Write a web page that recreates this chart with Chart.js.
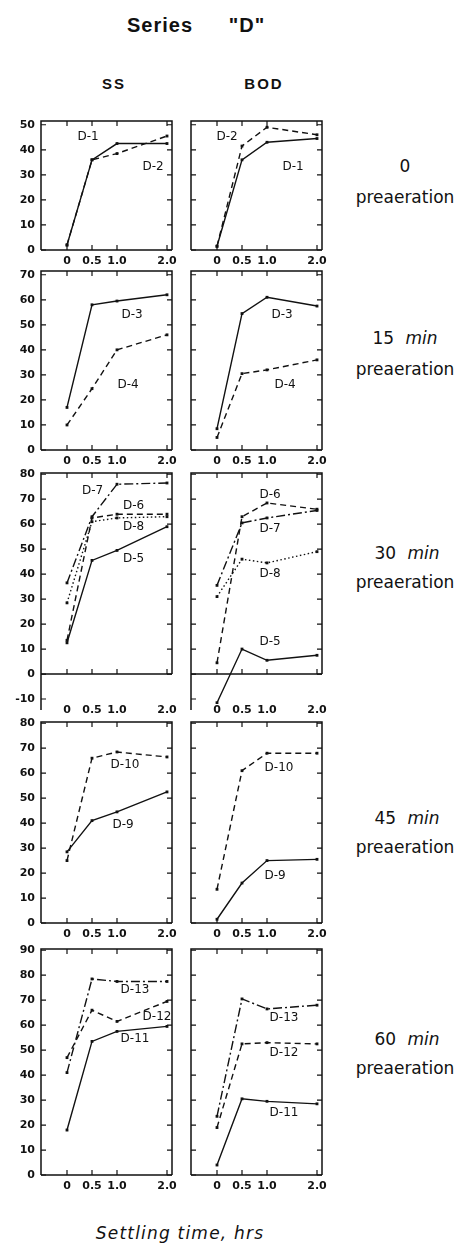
<!DOCTYPE html>
<html>
<head>
<meta charset="utf-8">
<script src="https://cdn.jsdelivr.net/npm/chart.js@4.4.0/dist/chart.umd.min.js"></script>
<style>
  body { margin: 0; background: #fff; }
  #page { position: relative; width: 468px; height: 1247px; overflow: hidden; font-family: 'DejaVu Sans'; color: #111; }
  #page canvas { position: absolute; }
  .txt { position: absolute; transform: translate(-50%, -50%); line-height: 1; white-space: nowrap; }
  .side { font-size: 17px; word-spacing: 6px; }
  .side i { font-style: italic; }
</style>
</head>
<body>
<div id="page">
  <div class="txt" style="left:160px; top:25px; font: bold 20px 'Liberation Sans'; letter-spacing:1px;">Series</div>
  <div class="txt" style="left:247px; top:25px; font: bold 20px 'Liberation Sans'; letter-spacing:1px;">"D"</div>
  <div class="txt" style="left:114px; top:83px; font: bold 15px 'Liberation Sans'; letter-spacing:2px;">SS</div>
  <div class="txt" style="left:264px; top:83px; font: bold 15px 'Liberation Sans'; letter-spacing:2px;">BOD</div>

  <div class="txt side" style="left:405px; top:166px;">0</div>
  <div class="txt side" style="left:405px; top:197px;">preaeration</div>
  <div class="txt side" style="left:405px; top:338px;">15 <i>min</i></div>
  <div class="txt side" style="left:405px; top:369px;">preaeration</div>
  <div class="txt side" style="left:407px; top:553px;">30 <i>min</i></div>
  <div class="txt side" style="left:405px; top:582px;">preaeration</div>
  <div class="txt side" style="left:407px; top:818px;">45 <i>min</i></div>
  <div class="txt side" style="left:405px; top:847px;">preaeration</div>
  <div class="txt side" style="left:407px; top:1039px;">60 <i>min</i></div>
  <div class="txt side" style="left:405px; top:1068px;">preaeration</div>

  <div class="txt" style="left:180px; top:1233px; font-size:17px; font-style:italic; letter-spacing:1.2px;">Settling time, hrs</div>
</div>
<script>
// settling time, hrs
var hours = [0, 0.5, 1.0, 2.0];
var hourLabels = ['0', '0.5', '1.0', '2.0'];

// 0 preaeration
var ss_d1 = [2, 36, 42.5, 42.5];
var ss_d2 = [2, 36, 38.5, 45.5];
var bod_d1 = [1.5, 36, 43, 44.5];
var bod_d2 = [1.5, 41.5, 49, 46];

// 15 min preaeration
var ss_d3 = [17, 58, 59.5, 62];
var ss_d4 = [10, 24.5, 40, 46];
var bod_d3 = [8.5, 54.5, 61, 57.5];
var bod_d4 = [5, 30.5, 32, 36];

// 30 min preaeration
var ss_d5 = [12.5, 45.5, 49.5, 59];
var ss_d6 = [13.5, 62.5, 64, 64];
var ss_d7 = [36.5, 63, 76, 76.5];
var ss_d8 = [28.5, 61, 62.5, 63];
var bod_d5 = [-11.5, 10, 5.5, 7.5];
var bod_d6 = [4.5, 63, 68.5, 66];
var bod_d7 = [35.5, 60.5, 62.5, 65.5];
var bod_d8 = [31, 46, 44.5, 49];

// 45 min preaeration
var ss_d9 = [28.5, 41, 44.5, 52.5];
var ss_d10 = [25, 66, 68.5, 66.5];
var bod_d9 = [1.5, 16, 25, 25.5];
var bod_d10 = [13.5, 61, 68, 68];

// 60 min preaeration
var ss_d11 = [18, 53.5, 57.5, 59.5];
var ss_d12 = [47, 66, 61.5, 69.5];
var ss_d13 = [41, 78.5, 77.5, 77.5];
var bod_d11 = [4, 30.5, 29.5, 28.5];
var bod_d12 = [19, 52.5, 53, 52.5];
var bod_d13 = [23.5, 70.5, 66.5, 68];

// y tick values per row
var ticks0 = [0, 10, 20, 30, 40, 50];
var ticks15 = [0, 10, 20, 30, 40, 50, 60, 70];
var ticks30 = [-10, 0, 10, 20, 30, 40, 50, 60, 70, 80];
var ticks45 = [0, 10, 20, 30, 40, 50, 60, 70, 80];
var ticks60 = [0, 10, 20, 30, 40, 50, 60, 70, 80, 90];

// line style of each run
var dashes = {
  'D-1': [], 'D-3': [], 'D-5': [], 'D-9': [], 'D-11': [],
  'D-2': [6, 4], 'D-4': [6, 4], 'D-6': [6, 4], 'D-10': [6, 4], 'D-12': [6, 4],
  'D-7': [9, 3, 2, 3], 'D-13': [9, 3, 2, 3],
  'D-8': [1.5, 2.5]
};

var PX = 2.5; // pixels per percent

var rows = [
  { zero: 250, yMin: 0, yMax: 51.5, yTicks: ticks0, xPad: 5,
    ss: [['D-1', ss_d1], ['D-2', ss_d2]],
    bod: [['D-1', bod_d1], ['D-2', bod_d2]],
    ssText: [['D-1', 0.42, 45], ['D-2', 1.72, 33]],
    bodText: [['D-2', 0.2, 45], ['D-1', 1.52, 33]] },
  { zero: 450, yMin: 0, yMax: 71.5, yTicks: ticks15, xPad: 5,
    ss: [['D-3', ss_d3], ['D-4', ss_d4]],
    bod: [['D-3', bod_d3], ['D-4', bod_d4]],
    ssText: [['D-3', 1.3, 54], ['D-4', 1.22, 26]],
    bodText: [['D-3', 1.3, 54], ['D-4', 1.36, 26]] },
  { zero: 674, yMin: -12, yMax: 80.5, yTicks: ticks30, xPad: 0,
    ss: [['D-5', ss_d5], ['D-6', ss_d6], ['D-7', ss_d7], ['D-8', ss_d8]],
    bod: [['D-5', bod_d5], ['D-6', bod_d6], ['D-7', bod_d7], ['D-8', bod_d8]],
    ssText: [['D-7', 0.51, 73.5], ['D-6', 1.33, 67.5], ['D-8', 1.33, 59], ['D-5', 1.33, 46.3]],
    bodText: [['D-6', 1.06, 71.6], ['D-7', 1.06, 58.3], ['D-8', 1.06, 40], ['D-5', 1.06, 13]] },
  { zero: 923, yMin: 0, yMax: 80.5, yTicks: ticks45, xPad: 5,
    ss: [['D-9', ss_d9], ['D-10', ss_d10]],
    bod: [['D-9', bod_d9], ['D-10', bod_d10]],
    ssText: [['D-10', 1.16, 63.2], ['D-9', 1.12, 39.2]],
    bodText: [['D-10', 1.24, 62.3], ['D-9', 1.16, 18.8]] },
  { zero: 1175, yMin: 0, yMax: 90.5, yTicks: ticks60, xPad: 5,
    ss: [['D-11', ss_d11], ['D-12', ss_d12], ['D-13', ss_d13]],
    bod: [['D-11', bod_d11], ['D-12', bod_d12], ['D-13', bod_d13]],
    ssText: [['D-13', 1.36, 74], ['D-12', 1.8, 63.3], ['D-11', 1.36, 54.4]],
    bodText: [['D-13', 1.34, 63], ['D-12', 1.34, 48.9], ['D-11', 1.34, 25]] }
];

var tickFont = { family: 'DejaVu Sans', size: 11, weight: 'bold' };

// box, inner tick marks and run names
var framePlugin = {
  id: 'frame',
  afterDatasetsDraw: function (chart, args, opts) {
    var ctx = chart.ctx;
    var a = chart.chartArea;
    var x = chart.scales.x;
    var y = chart.scales.y;
    var y0 = y.getPixelForValue(0);
    ctx.save();
    ctx.strokeStyle = '#111';
    ctx.lineWidth = 1.5;
    ctx.beginPath();
    ctx.moveTo(a.left, a.bottom + opts.extra);
    ctx.lineTo(a.left, a.top);
    ctx.lineTo(a.right, a.top);
    ctx.lineTo(a.right, y0);
    ctx.moveTo(a.left, y0);
    ctx.lineTo(a.right, y0);
    ctx.stroke();

    ctx.lineWidth = 1.2;
    ctx.beginPath();
    for (var i = 0; i < opts.yTicks.length; i++) {
      var py = y.getPixelForValue(opts.yTicks[i]);
      ctx.moveTo(a.left, py);
      ctx.lineTo(a.left + 5, py);
      if (opts.yTicks[i] >= 0) {
        ctx.moveTo(a.right, py);
        ctx.lineTo(a.right - 5, py);
      }
    }
    for (var j = 0; j < hours.length; j++) {
      var px = x.getPixelForValue(hours[j]);
      ctx.moveTo(px, a.top);
      ctx.lineTo(px, a.top + 5);
      ctx.moveTo(px, y0);
      ctx.lineTo(px, y0 - 5);
    }
    ctx.stroke();

    ctx.fillStyle = '#111';
    ctx.font = '12px "DejaVu Sans"';
    ctx.textAlign = 'center';
    ctx.textBaseline = 'middle';
    for (var k = 0; k < opts.text.length; k++) {
      var t = opts.text[k];
      ctx.fillText(t[0], x.getPixelForValue(t[1]), y.getPixelForValue(t[2]));
    }
    ctx.restore();
  }
};

function makePanel(row, side) {
  var isSS = side == 'ss';
  var left = isSS ? 0 : 183;
  var width = isSS ? 180 : 145;
  var top = Math.round(row.zero - row.yMax * PX) - 5;
  var bottom = Math.round(row.zero - row.yMin * PX);
  var height = bottom - top + 22;

  var canvas = document.createElement('canvas');
  canvas.width = width;
  canvas.height = height;
  canvas.style.left = left + 'px';
  canvas.style.top = top + 'px';
  document.getElementById('page').appendChild(canvas);

  var runs = isSS ? row.ss : row.bod;
  var datasets = [];
  for (var i = 0; i < runs.length; i++) {
    var vals = runs[i][1];
    var pts = [];
    for (var j = 0; j < hours.length; j++) {
      pts.push({ x: hours[j], y: vals[j] });
    }
    datasets.push({
      label: runs[i][0],
      data: pts,
      borderColor: '#111',
      backgroundColor: '#111',
      borderWidth: 1.4,
      borderDash: dashes[runs[i][0]],
      pointStyle: 'rect',
      pointRadius: 2,
      pointBorderWidth: 0,
      tension: 0,
      fill: false
    });
  }

  new Chart(canvas, {
    type: 'line',
    data: { datasets: datasets },
    plugins: [framePlugin],
    options: {
      responsive: false,
      animation: false,
      devicePixelRatio: 1,
      layout: { padding: { top: 5, bottom: 0, left: isSS ? 0 : 8, right: isSS ? 8 : 6 } },
      plugins: {
        legend: { display: false },
        tooltip: { enabled: false },
        frame: { yTicks: row.yTicks, text: isSS ? row.ssText : row.bodText, extra: row.yMin < 0 ? 6 : 0 }
      },
      scales: {
        x: {
          type: 'linear',
          min: -0.52,
          max: 2.1,
          afterBuildTicks: function (s) {
            s.ticks = hours.map(function (v) { return { value: v }; });
          },
          afterFit: function (s) {
            s.height = 22;
            s.paddingLeft = 0;
            s.paddingRight = 0;
          },
          grid: { display: false, drawTicks: false },
          border: { display: false },
          ticks: {
            padding: row.xPad,
            font: tickFont,
            color: '#111',
            maxRotation: 0,
            autoSkip: false,
            callback: function (v) { return hourLabels[hours.indexOf(v)]; }
          }
        },
        y: {
          type: 'linear',
          min: row.yMin,
          max: row.yMax,
          display: isSS,
          afterBuildTicks: function (s) {
            s.ticks = row.yTicks.map(function (v) { return { value: v }; });
          },
          afterFit: function (s) {
            s.width = isSS ? 41 : 0;
            s.paddingTop = 0;
            s.paddingBottom = 0;
          },
          grid: { display: false, drawTicks: false },
          border: { display: false },
          ticks: { padding: 6, font: tickFont, color: '#111' }
        }
      }
    }
  });
}

for (var r = 0; r < rows.length; r++) {
  makePanel(rows[r], 'ss');
  makePanel(rows[r], 'bod');
}
</script>
</body>
</html>
